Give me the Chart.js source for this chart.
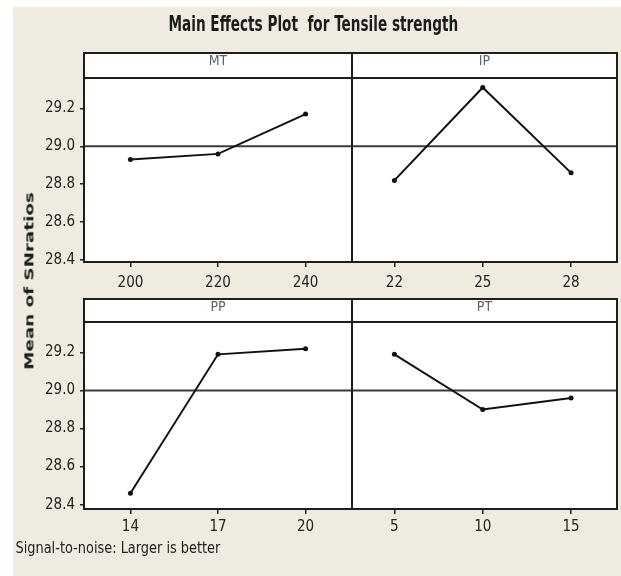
<!DOCTYPE html>
<html>
<head>
<meta charset="utf-8">
<script src="https://cdn.jsdelivr.net/npm/chart.js@4.4.0/dist/chart.umd.min.js"></script>
<style>
  html, body { margin: 0; padding: 0; background: #fff; }
  #page { position: absolute; left: 13px; top: 7px; width: 608px; height: 569px; background: #efebe1; }
  canvas { position: absolute; left: 0; top: 0; }
  .txt {
    position: absolute; white-space: nowrap; line-height: 1; color: #1b1b1b;
    font-family: 'Liberation Sans Narrow', 'DejaVu Sans Condensed', sans-serif;
  }
  #title { font-size: 22px; font-weight: bold; }
  #ytitle { font-size: 12px; font-weight: bold; }
  #footer { font-size: 15px; color: #222; }
</style>
</head>
<body>
<div id="page"></div>
<canvas id="mtChart" width="621" height="576"></canvas>
<canvas id="ipChart" width="621" height="576"></canvas>
<canvas id="ppChart" width="621" height="576"></canvas>
<canvas id="ptChart" width="621" height="576"></canvas>
<div id="title" class="txt">Main Effects Plot&nbsp; for Tensile strength</div>
<div id="ytitle" class="txt">Mean of SNratios</div>
<div id="footer" class="txt">Signal-to-noise: Larger is better</div>

<script>
// Factor levels and mean S/N ratios
const mtLevels = [200, 220, 240];
const mtMeans = [28.93, 28.96, 29.17];

const ipLevels = [22, 25, 28];
const ipMeans = [28.82, 29.31, 28.86];

const ppLevels = [14, 17, 20];
const ppMeans = [28.46, 29.19, 29.22];

const ptLevels = [5, 10, 15];
const ptMeans = [29.19, 28.90, 28.96];

const yTicks = [28.4, 28.6, 28.8, 29.0, 29.2];
const grandMean = 29.0;

const tickFont = { family: "'Liberation Sans Narrow', 'DejaVu Sans Condensed', sans-serif", size: 15 };
const inkColor = '#222222';

// Draws the white panel, strip header, frame and the mean reference line
const panelFrame = {
  id: 'panelFrame',
  beforeDraw(chart, args, opts) {
    const { ctx, chartArea: a } = chart;
    ctx.save();
    ctx.fillStyle = '#ffffff';
    ctx.fillRect(a.left, opts.stripTop, a.right - a.left, a.bottom - opts.stripTop);
    ctx.restore();
  },
  beforeDatasetsDraw(chart) {
    const { ctx, chartArea: a } = chart;
    const y = chart.scales.y.getPixelForValue(grandMean);
    ctx.save();
    ctx.strokeStyle = '#3b3b3b';
    ctx.lineWidth = 2;
    ctx.beginPath();
    ctx.moveTo(a.left, y);
    ctx.lineTo(a.right, y);
    ctx.stroke();
    ctx.restore();
  },
  afterDraw(chart, args, opts) {
    const { ctx, chartArea: a } = chart;
    ctx.save();
    ctx.strokeStyle = '#1e1e1e';
    ctx.lineWidth = 2;
    ctx.strokeRect(a.left, opts.stripTop, a.right - a.left, a.bottom - opts.stripTop);
    ctx.beginPath();
    ctx.moveTo(a.left, a.top);
    ctx.lineTo(a.right, a.top);
    ctx.stroke();
    ctx.fillStyle = '#5d6470';
    ctx.font = "14px 'Liberation Sans Narrow', 'DejaVu Sans Condensed', sans-serif";
    ctx.textAlign = 'center';
    ctx.textBaseline = 'middle';
    ctx.fillText(opts.label, (a.left + a.right) / 2, opts.stripTop + 8.5);
    ctx.restore();
  }
};

function makePanel(canvasId, label, levels, means, box) {
  const step = levels[1] - levels[0];
  const pts = levels.map((v, i) => ({ x: v, y: means[i] }));
  const showY = box.left < 200;
  const yAxisW = 44;

  new Chart(document.getElementById(canvasId), {
    type: 'line',
    data: {
      datasets: [{
        data: pts,
        borderColor: '#111111',
        backgroundColor: '#111111',
        borderWidth: 2,
        pointRadius: 2.5,
        pointBorderWidth: 0,
        tension: 0
      }]
    },
    plugins: [panelFrame],
    options: {
      responsive: false,
      animation: false,
      events: [],
      layout: {
        padding: {
          left: showY ? box.left - yAxisW : box.left,
          top: box.top,
          right: 621 - box.right,
          bottom: 576 - box.bottom - 30
        }
      },
      plugins: {
        legend: { display: false },
        tooltip: { enabled: false },
        panelFrame: { label: label, stripTop: box.stripTop }
      },
      scales: {
        x: {
          type: 'linear',
          min: levels[0] - box.padL * step,
          max: levels[levels.length - 1] + box.padR * step,
          afterBuildTicks: s => { s.ticks = levels.map(v => ({ value: v })); },
          afterFit: s => { s.height = 30; },
          border: { display: false },
          grid: { display: true, drawOnChartArea: false, drawTicks: true, tickLength: 5, color: inkColor, lineWidth: 1.5 },
          ticks: { font: tickFont, color: inkColor, padding: box.xPad, autoSkip: false, maxRotation: 0, callback: v => String(v) }
        },
        y: {
          display: showY,
          min: box.yMin,
          max: 29.36,
          afterBuildTicks: s => { s.ticks = yTicks.map(v => ({ value: v })); },
          afterFit: s => { s.width = showY ? yAxisW : 0; },
          border: { display: false },
          grid: { display: true, drawOnChartArea: false, drawTicks: true, tickLength: 4, color: inkColor, lineWidth: 1.5 },
          ticks: { font: tickFont, color: inkColor, padding: 5, autoSkip: false, callback: v => v.toFixed(1) }
        }
      }
    }
  });
}

makePanel('mtChart', 'MT', mtLevels, mtMeans,
  { left: 84, right: 352, stripTop: 53, top: 78, bottom: 262, yMin: 28.39, padL: 0.53, padR: 0.53, xPad: 7 });
makePanel('ipChart', 'IP', ipLevels, ipMeans,
  { left: 352, right: 618, stripTop: 53, top: 78, bottom: 262, yMin: 28.39, padL: 0.48, padR: 0.52, xPad: 7 });
makePanel('ppChart', 'PP', ppLevels, ppMeans,
  { left: 84, right: 352, stripTop: 299, top: 322, bottom: 509, yMin: 28.377, padL: 0.53, padR: 0.53, xPad: 4 });
makePanel('ptChart', 'PT', ptLevels, ptMeans,
  { left: 352, right: 618, stripTop: 299, top: 322, bottom: 509, yMin: 28.377, padL: 0.48, padR: 0.52, xPad: 4 });

// Squeeze the HTML labels to the lengths they take in the reference
function fitText(id, length, cx, cy, rotated) {
  const el = document.getElementById(id);
  const w = el.offsetWidth, h = el.offsetHeight;
  el.style.left = (cx - w / 2) + 'px';
  el.style.top = (cy - h / 2) + 'px';
  el.style.transformOrigin = '50% 50%';
  el.style.transform = (rotated ? 'rotate(-90deg) ' : '') + 'scaleX(' + (length / w) + ')';
}

fitText('title', 290, 313, 23.5, false);
fitText('ytitle', 178, 29.5, 281, true);
fitText('footer', 205, 117.5, 548, false);
</script>
</body>
</html>
